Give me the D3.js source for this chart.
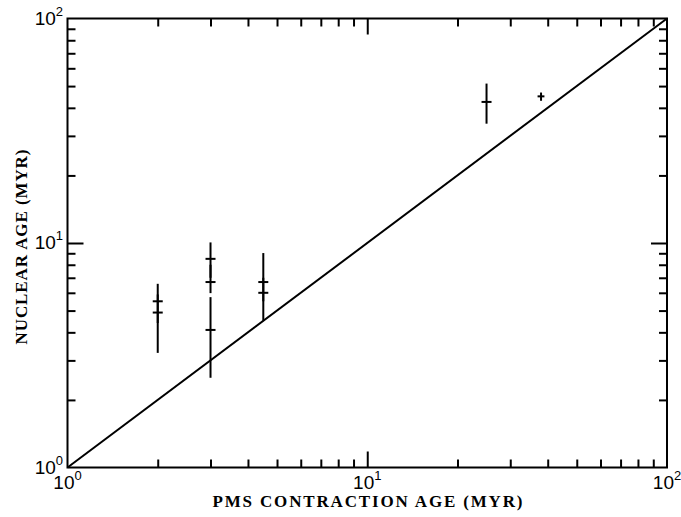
<!DOCTYPE html>
<html><head><meta charset="utf-8">
<script src="https://cdn.jsdelivr.net/npm/d3@7/dist/d3.min.js"></script>
<style>body{margin:0;background:#fff}svg{display:block}</style>
</head><body>
<svg id="c" width="681" height="517"></svg>
<script>
// Data
const pmsAge   = [2,    2,    3,    3,    3,    4.5,  4.5,  25,   38];
const nucAge   = [5.5,  4.9,  8.5,  6.7,  4.1,  6.7,  6.0,  42.5, 45];
const nucLo    = [4.4,  3.24, 7.0,  5.98, 2.51, 5.5,  4.51, 34.0, 43.0];
const nucHi    = [6.58, 5.9,  10.06,8.0,  5.74, 9.02, 7.0,  51.3, 46.8];
const pmsLo    = [null, null, null, null, null, null, null, null, 37.0];
const pmsHi    = [null, null, null, null, null, null, null, null, 39.0];
const decades  = [1, 10, 100];
const decadeExp = ["0", "1", "2"];
const xTitle = "PMS CONTRACTION AGE (MYR)";
const yTitle = "NUCLEAR AGE (MYR)";

const svg = d3.select("#c");
const L = 67.5, R = 667, T = 18.5, B = 467.5;
const x = d3.scaleLog().domain([1, 100]).range([L, R]);
const y = d3.scaleLog().domain([1, 100]).range([B, T]);

const minor = [];
for (let d = 1; d < 100; d *= 10) for (let k = 2; k <= 9; k++) minor.push(d * k);

const ink = "#000";
const g = svg.append("g").attr("stroke", ink).attr("stroke-width", 2).attr("fill", "none");

// frame
g.append("rect").attr("x", L).attr("y", T).attr("width", R - L).attr("height", B - T);

// ticks via axes (inward)
function addAxis(axisFn, scale, vals, size, transform) {
  const a = axisFn(scale).tickValues(vals).tickSize(size).tickFormat("");
  const sel = svg.append("g").attr("transform", transform).call(a);
  sel.select(".domain").remove();
  sel.selectAll("line").attr("stroke", ink).attr("stroke-width", 2);
}
const majInner = [10];
addAxis(d3.axisTop, x, minor, 8, `translate(0,${B})`);
addAxis(d3.axisTop, x, majInner, 16, `translate(0,${B})`);
addAxis(d3.axisBottom, x, minor, 8, `translate(0,${T})`);
addAxis(d3.axisBottom, x, majInner, 16, `translate(0,${T})`);
addAxis(d3.axisRight, y, minor, 8, `translate(${L},0)`);
addAxis(d3.axisRight, y, majInner, 16, `translate(${L},0)`);
addAxis(d3.axisLeft, y, minor, 8, `translate(${R},0)`);
addAxis(d3.axisLeft, y, majInner, 16, `translate(${R},0)`);

// tick labels
const lf = "'Liberation Sans', Arial, sans-serif";
decades.forEach((v, i) => {
  const tx = svg.append("text").attr("x", x(v)).attr("y", 489).attr("text-anchor", "middle")
    .attr("font-family", lf).attr("font-size", 19).attr("fill", ink);
  tx.append("tspan").text("10");
  tx.append("tspan").attr("dy", -9).attr("font-size", 13).text(decadeExp[i]);
  const ty = svg.append("text").attr("x", 63).attr("y", y(v) + 6).attr("text-anchor", "end")
    .attr("font-family", lf).attr("font-size", 19).attr("fill", ink);
  ty.append("tspan").text("10");
  ty.append("tspan").attr("dy", -9).attr("font-size", 13).text(decadeExp[i]);
});

// titles
const sf = "'Liberation Serif', 'DejaVu Serif', serif";
svg.append("text").attr("x", 367.5).attr("y", 507).attr("text-anchor", "middle")
  .attr("font-family", sf).attr("font-size", 17).attr("font-weight", "bold").attr("fill", ink)
  .attr("textLength", 310).attr("lengthAdjust", "spacing").text(xTitle);
svg.append("text").attr("transform", "translate(27,247) rotate(-90)").attr("text-anchor", "middle")
  .attr("font-family", sf).attr("font-size", 17).attr("font-weight", "bold").attr("fill", ink)
  .attr("textLength", 195).attr("lengthAdjust", "spacing").text(yTitle);

// diagonal
const line = d3.line().x(d => x(d)).y(d => y(d));
g.append("path").attr("d", line([1, 100]));

// data points
const pts = pmsAge.map((v, i) => ({ x: v, y: nucAge[i], lo: nucLo[i], hi: nucHi[i], xl: pmsLo[i], xh: pmsHi[i] }));
const pg = g.append("g");
pts.forEach(p => {
  pg.append("line").attr("x1", x(p.x)).attr("x2", x(p.x)).attr("y1", y(p.lo)).attr("y2", y(p.hi));
  if (p.xl != null) {
    pg.append("line").attr("x1", x(p.xl)).attr("x2", x(p.xh)).attr("y1", y(p.y)).attr("y2", y(p.y));
  } else {
    pg.append("line").attr("x1", x(p.x) - 5).attr("x2", x(p.x) + 5).attr("y1", y(p.y)).attr("y2", y(p.y));
  }
});
</script>
</body></html>
